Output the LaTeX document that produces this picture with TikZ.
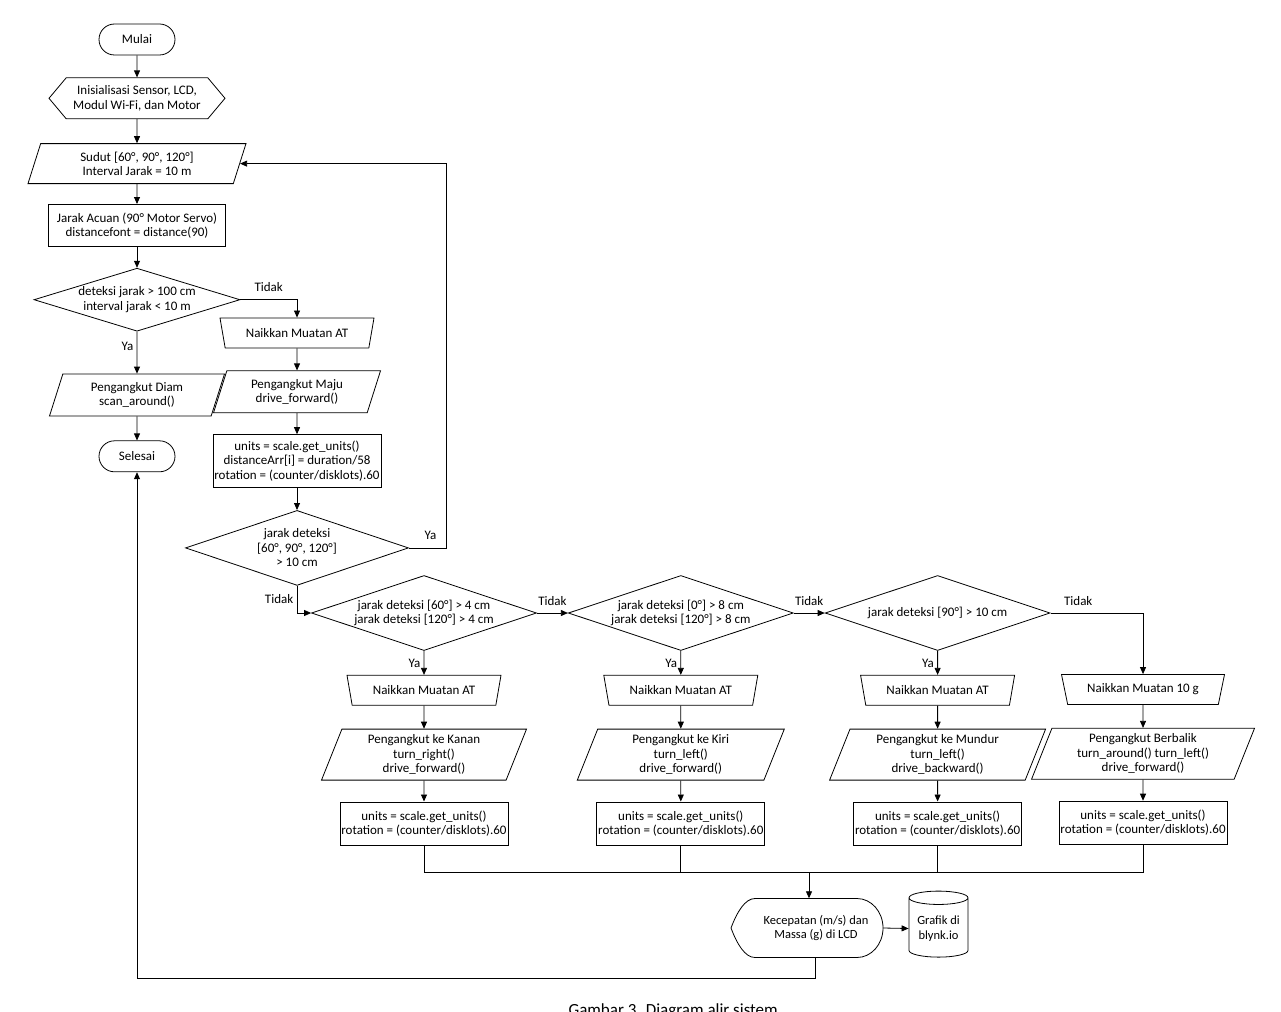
\documentclass[tikz,border=0pt]{standalone}
\usepackage{fontspec}
\setmainfont{Carlito}
\usetikzlibrary{arrows.meta,positioning,shapes.geometric,shapes.misc,shapes.symbols,calc}
\tikzset{
  base/.style={draw=black,line width=0.8pt,align=center,font=\fontsize{13}{14.5}\selectfont,inner sep=1pt},
  terminal/.style={base,rounded rectangle,minimum width=78pt,minimum height=31pt},
  prepare/.style={base,signal,signal to=east and west,signal pointer angle=100,minimum width=176pt,minimum height=41pt},
  inout/.style={base,trapezium,trapezium left angle=64,trapezium right angle=116,trapezium stretches body},
  manual/.style={base,trapezium,trapezium left angle=115,trapezium right angle=115,trapezium stretches body,minimum width=154pt,minimum height=30pt},
  process/.style={base,rectangle,minimum width=168pt,minimum height=43pt},
  decision/.style={base,diamond,aspect=3,inner sep=0pt,minimum width=225pt,minimum height=75pt},
  line/.style={-{Triangle[length=7pt,width=6pt]},line width=0.8pt},
  joinline/.style={line width=0.8pt},
  lbl/.style={font=\fontsize{13}{14.5}\selectfont}
}
\begin{document}
\begin{tikzpicture}[x=1pt,y=1pt]
  \useasboundingbox (0,0) rectangle (1281,-1011);
  % kolom kiri
  \node[terminal] (mulai) at (137,-39.5) {Mulai};
  \node[prepare,below=22pt of mulai] (init) {Inisialisasi Sensor, LCD,\\Modul Wi-Fi, dan Motor};
  \node[inout,minimum width=218pt,minimum height=40pt,below=24pt of init] (sudut) {Sudut [60°, 90°, 120°]\\Interval Jarak = 10 m};
  \node[process,minimum width=177pt,minimum height=42pt,below=20pt of sudut] (acuan) {Jarak Acuan (90° Motor Servo)\\distancefont = distance(90)};
  \node[decision,minimum width=206pt,minimum height=63pt,aspect=3.2,below=21pt of acuan] (cek1) {deteksi jarak > 100 cm\\interval jarak < 10 m};
  \node[inout,minimum width=175pt,minimum height=42pt,below=42pt of cek1] (diam) {Pengangkut Diam\\scan\_around()};
  \node[terminal,below=24pt of diam] (selesai) {Selesai};
  \draw[line] (mulai) -- (init);
  \draw[line] (init) -- (sudut);
  \draw[line] (sudut) -- (acuan);
  \draw[line] (acuan) -- (cek1);
  \draw[line] (cek1) -- node[lbl,left,pos=0.35]{Ya} (diam);
  \draw[line] (diam) -- (selesai);

  % kolom kedua
  \node[manual] (naik0) at (297,-333) {Naikkan Muatan AT};
  \node[inout,minimum width=167pt,minimum height=42pt,below=22pt of naik0] (maju) {Pengangkut Maju\\drive\_forward()};
  \node[process,minimum width=168pt,minimum height=53pt,below=21pt of maju] (hitung0) {units = scale.get\_units()\\distanceArr[i] = duration/58\\rotation = (counter/disklots).60};
  \node[decision,minimum width=223pt,below=22pt of hitung0] (cek2) {jarak deteksi\\{[60°, 90°, 120°]}\\> 10 cm};
  \coordinate (sudutkanan) at ($(sudut.top right corner)!0.5!(sudut.bottom right corner)$);
  \draw[line] (cek1.east) -| node[lbl,above=4pt,pos=0.25]{Tidak} (naik0.north);
  \draw[line] (naik0) -- (maju);
  \draw[line] (maju) -- (hitung0);
  \draw[line] (hitung0) -- (cek2);
  \draw[line] (cek2.east) -- node[lbl,above=5pt,xshift=3pt]{Ya} ++(37,0) |- (sudutkanan);

  % baris keputusan
  \node[decision] (cek3) at (424,-613) {jarak deteksi [60°] > 4 cm\\jarak deteksi [120°] > 4 cm};
  \node[decision,right=31pt of cek3] (cek4) {jarak deteksi [0°] > 8 cm\\jarak deteksi [120°] > 8 cm};
  \node[decision,right=31pt of cek4] (cek5) {jarak deteksi [90°] > 10 cm};
  \draw[line] (cek2.south) |- node[lbl,left,pos=0.25]{Tidak} (cek3.west);
  \draw[line] (cek3) -- node[lbl,above=4pt]{Tidak} (cek4);
  \draw[line] (cek4) -- node[lbl,above=4pt]{Tidak} (cek5);

  % kolom bawah
  \node[manual,below=24pt of cek3] (naik1) {Naikkan Muatan AT};
  \node[inout,minimum width=205pt,minimum height=51pt,below=23pt of naik1] (kanan) {Pengangkut ke Kanan\\turn\_right()\\drive\_forward()};
  \node[process,below=21pt of kanan] (hitung1) {units = scale.get\_units()\\rotation = (counter/disklots).60};
  \node[manual,below=24pt of cek4] (naik2) {Naikkan Muatan AT};
  \node[inout,minimum width=207pt,minimum height=51pt,below=23pt of naik2] (kiri) {Pengangkut ke Kiri\\turn\_left()\\drive\_forward()};
  \node[process,below=21pt of kiri] (hitung2) {units = scale.get\_units()\\rotation = (counter/disklots).60};
  \node[manual,below=24pt of cek5] (naik3) {Naikkan Muatan AT};
  \node[inout,minimum width=216pt,minimum height=51pt,below=23pt of naik3] (mundur) {Pengangkut ke Mundur\\turn\_left()\\drive\_backward()};
  \node[process,below=21pt of mundur] (hitung3) {units = scale.get\_units()\\rotation = (counter/disklots).60};
  \node[manual,minimum width=163pt] (naik4) at (1143,-689.5) {Naikkan Muatan 10 g};
  \node[inout,minimum width=223pt,minimum height=51pt,below=23pt of naik4] (balik) {Pengangkut Berbalik\\turn\_around() turn\_left()\\drive\_forward()};
  \node[process,below=21pt of balik] (hitung4) {units = scale.get\_units()\\rotation = (counter/disklots).60};
  \draw[line] (cek3) -- node[lbl,left]{Ya} (naik1);
  \draw[line] (cek4) -- node[lbl,left]{Ya} (naik2);
  \draw[line] (cek5) -- node[lbl,left]{Ya} (naik3);
  \draw[line] (cek5.east) -| node[lbl,above=4pt,pos=0.15]{Tidak} (naik4.north);
  \draw[line] (naik1) -- (kanan);
  \draw[line] (kanan) -- (hitung1);
  \draw[line] (naik2) -- (kiri);
  \draw[line] (kiri) -- (hitung2);
  \draw[line] (naik3) -- (mundur);
  \draw[line] (mundur) -- (hitung3);
  \draw[line] (naik4) -- (balik);
  \draw[line] (balik) -- (hitung4);

  % keluaran
  \coordinate (gabung) at (809,-872);
  \draw[joinline] (hitung1.south) |- (gabung) -| (hitung4.south);
  \draw[joinline] (hitung2.south) -- (hitung2.south |- gabung);
  \draw[joinline] (hitung3.south) -- (hitung3.south |- gabung);
  \node[minimum width=134pt,minimum height=59pt,inner sep=0pt,align=center,font=\fontsize{12.5}{14.5}\selectfont] (layar) at (816,-928) {Kecepatan (m/s) dan\\Massa (g) di LCD};
  \draw[joinline] ($(layar)+(-85,0)$) .. controls ($(layar)+(-79,16)$) and ($(layar)+(-71,29.5)$) .. ($(layar)+(-61,29.5)$)
    -- ($(layar)+(41,29.5)$) arc[start angle=90,end angle=-90,x radius=26,y radius=29.5]
    -- ($(layar)+(-61,-29.5)$) .. controls ($(layar)+(-71,-29.5)$) and ($(layar)+(-79,-16)$) .. cycle;
  \node[base,cylinder,shape border rotate=90,aspect=0.3,minimum width=59pt,minimum height=66pt,font=\fontsize{12.5}{14.5}\selectfont] (grafik) at (938.5,-928.5) {Grafik di\\blynk.io};
  \draw[line] (gabung) -- (gabung |- layar.north);
  \draw[line] (layar.east) -- (grafik.west);
  \coordinate (keluar) at ($(layar.south)+(-1,0)$);
  \draw[line] (keluar) -- ++(0,-20.5) -| (selesai.south);

  \node[anchor=base west,font=\fontsize{17}{20}\selectfont] (judul) at (565,-1015) {Gambar 3. Diagram alir sistem};
\end{tikzpicture}
\end{document}
